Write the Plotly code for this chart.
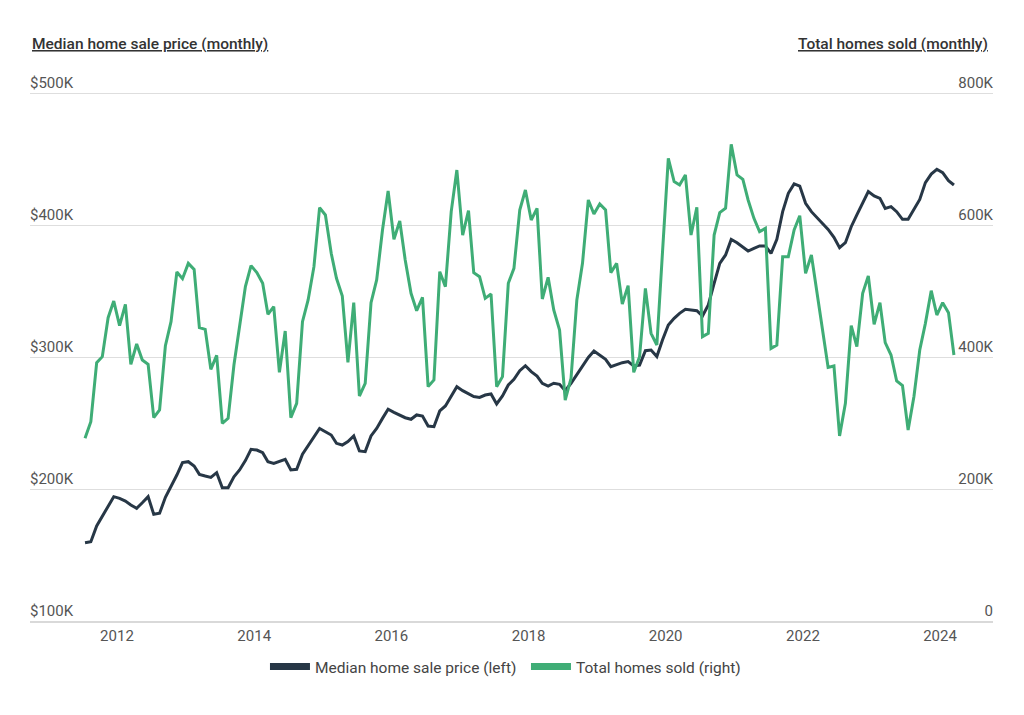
import pandas as pd
import plotly.graph_objects as go

# Monthly observations (mid-month), Jul 2011 .. Mar 2024
dates = pd.date_range("2011-07-01", periods=153, freq="MS") + pd.Timedelta(days=14)

median_price_k = [
    159.3, 160.1, 172.0, 179.0, 186.6, 194.2, 192.9, 190.9, 187.9, 185.4, 189.6, 194.2,
    180.8, 181.6, 193.7, 201.8, 210.6, 220.0, 220.7, 217.4, 211.1, 209.8, 208.8, 212.4,
    201.0, 201.0, 209.3, 214.4, 221.5, 230.1, 229.5, 227.5, 220.7, 219.4, 220.7, 222.5,
    214.4, 214.9, 226.3, 232.6, 238.9, 245.9, 243.4, 240.9, 234.6, 233.3, 235.9, 240.2,
    228.8, 228.3, 240.2, 245.9, 253.5, 260.4, 258.1, 256.1, 254.0, 252.8, 256.1, 255.3,
    247.7, 247.2, 259.1, 262.9, 270.0, 277.5, 274.5, 272.0, 270.0, 269.4, 271.2, 272.0,
    264.4, 270.5, 278.8, 283.1, 289.6, 293.4, 288.9, 285.6, 280.1, 278.0, 280.1, 279.3,
    274.5, 280.1, 286.9, 293.2, 299.7, 304.5, 301.5, 298.2, 292.7, 294.4, 295.7, 296.5,
    293.2, 293.9, 304.8, 305.3, 300.3, 312.9, 324.2, 329.3, 333.1, 336.1, 335.6, 335.1,
    331.1, 339.4, 355.8, 371.0, 377.3, 389.1, 386.6, 383.6, 380.3, 382.3, 384.1, 384.1,
    378.5, 389.1, 410.1, 424.0, 431.1, 429.5, 416.4, 410.1, 405.8, 401.8, 396.7, 390.7,
    382.8, 386.6, 398.7, 407.6, 416.9, 425.3, 422.0, 420.2, 412.6, 413.9, 410.1, 404.3,
    404.3, 411.4, 419.4, 432.1, 438.6, 442.2, 439.6, 433.6, 430.3,
]

homes_sold_k = [
    276.8, 302.0, 391.4, 400.5, 459.6, 484.8, 447.5, 479.8, 388.9, 419.7, 395.5, 388.9,
    308.1, 319.7, 417.2, 453.5, 528.8, 518.7, 541.9, 532.8, 444.4, 441.9, 381.3, 402.5,
    299.5, 307.1, 387.9, 446.0, 506.6, 538.4, 527.8, 511.6, 464.6, 476.3, 376.8, 439.4,
    308.1, 329.8, 453.5, 486.4, 536.9, 626.3, 615.2, 557.1, 519.2, 492.4, 391.9, 482.3,
    340.9, 360.1, 482.3, 516.7, 592.4, 651.5, 578.3, 606.1, 547.0, 496.5, 470.2, 490.4,
    355.1, 365.2, 529.3, 506.6, 620.2, 683.3, 584.8, 621.7, 527.8, 521.7, 488.9, 495.5,
    355.1, 370.2, 511.6, 534.3, 622.7, 653.0, 607.6, 625.3, 487.9, 520.7, 471.2, 440.9,
    334.8, 367.7, 486.4, 541.9, 637.9, 616.7, 631.8, 622.7, 527.8, 541.9, 480.3, 508.1,
    376.8, 400.5, 504.0, 435.9, 418.2, 558.6, 701.0, 665.7, 660.6, 675.8, 584.8, 626.8,
    430.8, 435.9, 584.8, 618.7, 625.3, 722.2, 675.8, 669.2, 637.9, 610.1, 589.9, 594.9,
    413.1, 418.2, 552.0, 552.0, 592.4, 614.1, 526.8, 554.5, 501.5, 443.4, 384.3, 386.4,
    280.3, 329.8, 447.5, 415.7, 496.5, 522.7, 449.5, 482.3, 421.7, 403.0, 363.6, 356.6,
    289.4, 340.1, 410.6, 451.0, 500.5, 463.6, 482.3, 467.2, 403.0,
]

left_tickvals = [100000, 200000, 300000, 400000, 500000]
left_ticktext = ["$100K", "$200K", "$300K", "$400K", "$500K"]
right_tickvals = [0, 200000, 400000, 600000, 800000]
right_ticktext = ["0", "200K", "400K", "600K", "800K"]
year_ticks = ["2012-01-01", "2014-01-01", "2016-01-01", "2018-01-01",
              "2020-01-01", "2022-01-01", "2024-01-01"]
year_labels = ["2012", "2014", "2016", "2018", "2020", "2022", "2024"]

DARK = "#273746"
GREEN = "#3fad76"
FONT = "Roboto"
TICK_COLOR = "#555555"

fig = go.Figure()
fig.add_trace(go.Scatter(
    x=dates, y=[v * 1000 for v in homes_sold_k], yaxis="y2", mode="lines",
    line=dict(color=GREEN, width=3), showlegend=False, name="Total homes sold (right)",
))
fig.add_trace(go.Scatter(
    x=dates, y=[v * 1000 for v in median_price_k], yaxis="y", mode="lines",
    line=dict(color=DARK, width=3), showlegend=False, name="Median home sale price (left)",
))
# legend-only entries with thicker swatches
fig.add_trace(go.Scatter(x=[None], y=[None], mode="lines", line=dict(color=DARK, width=7),
                         name="Median home sale price (left)"))
fig.add_trace(go.Scatter(x=[None], y=[None], mode="lines", line=dict(color=GREEN, width=7),
                         name="Total homes sold (right)"))

fig.update_layout(
    width=1024, height=715,
    margin=dict(l=30, r=31, t=60, b=94),
    paper_bgcolor="white", plot_bgcolor="white",
    font=dict(family=FONT, size=15, color=TICK_COLOR),
    xaxis=dict(
        type="date", range=["2010-09-25", "2024-10-09"],
        tickvals=year_ticks, ticktext=year_labels,
        showgrid=False, zeroline=False,
        showline=True, linecolor="#d9d9d9", linewidth=2,
        ticks="", tickfont=dict(size=15, color=TICK_COLOR),
    ),
    yaxis=dict(
        range=[100000, 525000], tickvals=left_tickvals, ticktext=left_ticktext,
        showgrid=True, gridcolor="#dedede", gridwidth=1,
        zeroline=False, showline=False, ticks="",
        ticklabelposition="inside top", ticklabelstandoff=-3,
        tickfont=dict(size=15, color=TICK_COLOR),
    ),
    yaxis2=dict(
        range=[0, 850000], tickvals=right_tickvals, ticktext=right_ticktext,
        overlaying="y", side="right", showgrid=False, zeroline=False,
        showline=False, ticks="",
        ticklabelposition="inside top", ticklabelstandoff=-3,
        tickfont=dict(size=15, color=TICK_COLOR),
    ),
    legend=dict(
        orientation="h", x=0.244, xanchor="left", y=-0.082, yanchor="middle",
        font=dict(size=15.5, color="#444444"), itemwidth=40, entrywidth=206,
    ),
    annotations=[
        dict(text="Median home sale price (monthly)", xref="paper", yref="paper",
             x=0, y=1.0285, xanchor="left", yanchor="middle", xshift=0, showarrow=False,
             font=dict(family=FONT, size=15.5, color="#333333", weight=500, lineposition="under")),
        dict(text="Total homes sold (monthly)", xref="paper", yref="paper",
             x=1, y=1.0285, xanchor="right", yanchor="middle", xshift=-3, showarrow=False,
             font=dict(family=FONT, size=15.5, color="#333333", weight=500, lineposition="under")),
    ],
)

fig.write_html("out.html")
